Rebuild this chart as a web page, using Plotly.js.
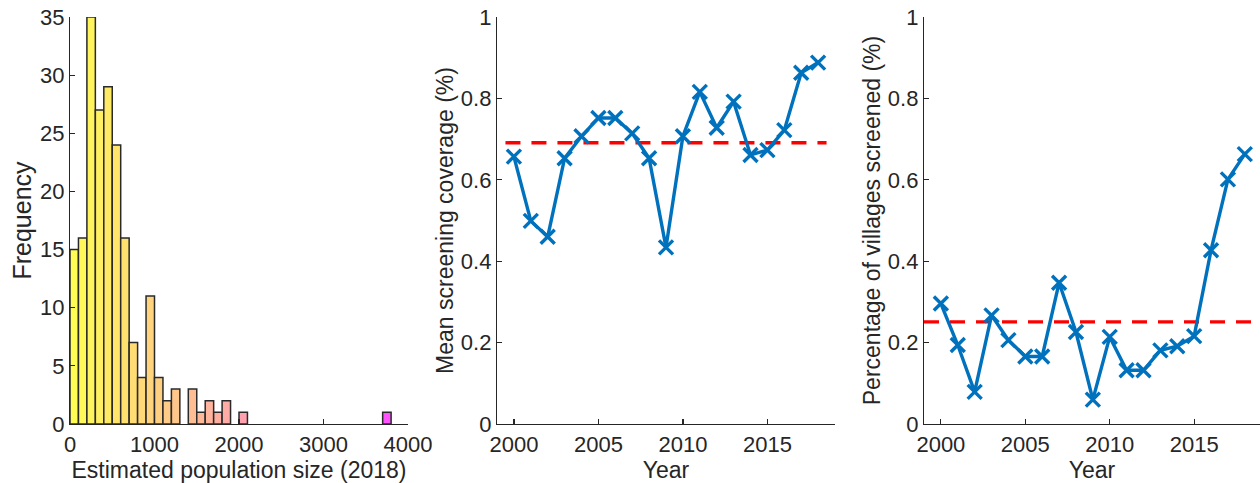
<!DOCTYPE html>
<html>
<head>
<meta charset="utf-8">
<script src="https://cdn.plot.ly/plotly-3.0.1.min.js"></script>
<style>html,body{margin:0;padding:0;background:#fff;overflow:hidden}#chart{width:1260px;height:483px}</style>
</head>
<body>
<div id="chart"></div>
<script>
// Histogram: bin left edges (width 100) and counts
const binWidth = 100;
const binStarts = [0,100,200,300,400,500,600,700,800,900,1000,1100,1200,1300,1400,1500,1600,1700,1800,1900,2000,2100,2200,2300,2400,2500,2600,2700,2800,2900,3000,3100,3200,3300,3400,3500,3600,3700];
const binCounts = [15,16,35,27,29,24,16,7,4,11,4,2,3,0,3,1,2,1,2,0,1,0,0,0,0,0,0,0,0,0,0,0,0,0,0,0,0,1];

// Time series
const years = [2000,2001,2002,2003,2004,2005,2006,2007,2008,2009,2010,2011,2012,2013,2014,2015,2016,2017,2018];
const meanCoverage = [0.657,0.499,0.460,0.653,0.707,0.752,0.752,0.714,0.653,0.434,0.707,0.816,0.728,0.792,0.661,0.673,0.722,0.863,0.888];
const meanCoverageAvg = 0.691;
const villagesScreened = [0.296,0.194,0.079,0.267,0.206,0.166,0.166,0.347,0.226,0.060,0.214,0.132,0.132,0.181,0.191,0.216,0.427,0.601,0.663];
const villagesScreenedAvg = 0.251;

const FONT = 'Liberation Sans, Arial, Helvetica, sans-serif';
const AX = '#262626';
const BLUE = '#0072BD';

// spring colormap (magenta->yellow) with transparency over white
const maxC = binStarts[binStarts.length-1] + binWidth;
const alpha = 0.68;
function springColor(v){
  const t = 1 - v / maxC;
  const r = 255;
  const g = Math.round(255*(alpha*t + (1-alpha)));
  const b = Math.round(255*(alpha*(1-t) + (1-alpha)));
  return 'rgb('+r+','+g+','+b+')';
}
const centers = binStarts.map(s => s + binWidth/2);
const shown = binCounts.map(c => c > 0);
const histX = centers.filter((_,i)=>shown[i]);
const histY = binCounts.filter((_,i)=>shown[i]);
const histC = histX.map(springColor);

const mk = {symbol:'x-thin', size:14, color:BLUE, line:{color:BLUE, width:3.4}};
const traces = [
  {type:'bar', x:histX, y:histY, width:binWidth, xaxis:'x', yaxis:'y',
   marker:{color:histC, line:{color:'#2a2a2a', width:1.5}}, hoverinfo:'x+y'},
  {type:'scatter', mode:'lines', x:[years[0]-0.5, years[years.length-1]+0.5], y:[meanCoverageAvg, meanCoverageAvg],
   xaxis:'x2', yaxis:'y2', line:{color:'#ff0000', width:3.4, dash:'15px,11px'}},
  {type:'scatter', mode:'lines+markers', x:years, y:meanCoverage, xaxis:'x2', yaxis:'y2',
   line:{color:BLUE, width:3.4}, marker:mk},
  {type:'scatter', mode:'lines', x:[years[0]-1, years[years.length-1]+1], y:[villagesScreenedAvg, villagesScreenedAvg],
   xaxis:'x3', yaxis:'y3', line:{color:'#ff0000', width:3.4, dash:'15px,11px'}},
  {type:'scatter', mode:'lines+markers', x:years, y:villagesScreened, xaxis:'x3', yaxis:'y3',
   line:{color:BLUE, width:3.4}, marker:mk}
];

function axisBase(){
  return {showline:true, linecolor:AX, linewidth:1.2, ticks:'inside', ticklen:5, tickwidth:1.2, tickcolor:AX,
          showgrid:false, zeroline:false, tickfont:{family:FONT, size:22, color:AX}, automargin:false, fixedrange:true};
}
const W = 1260;
const layout = {
  width:1260, height:483, showlegend:false,
  paper_bgcolor:'#fff', plot_bgcolor:'#fff',
  margin:{l:0, r:0, t:17, b:59},
  font:{family:FONT, color:AX},
  xaxis:Object.assign(axisBase(), {domain:[70/W, 408/W], range:[0,4000], tickvals:[0,1000,2000,3000,4000], anchor:'y',
        title:{text:'Estimated population size (2018)', font:{family:FONT, size:23, color:AX}, standoff:5}}),
  yaxis:Object.assign(axisBase(), {domain:[0,1], range:[0,35], dtick:5, anchor:'x',
        title:{text:'Frequency', font:{family:FONT, size:25, color:AX}, standoff:1}}),
  xaxis2:Object.assign(axisBase(), {domain:[497/W, 835/W], range:[1999,2019], tickvals:[2000,2005,2010,2015], anchor:'y2',
        title:{text:'Year', font:{family:FONT, size:23, color:AX}, standoff:5}}),
  yaxis2:Object.assign(axisBase(), {domain:[0,1], range:[0,1], tickvals:[0,0.2,0.4,0.6,0.8,1], anchor:'x2',
        title:{text:'Mean screening coverage (%)', font:{family:FONT, size:23, color:AX}, standoff:0}}),
  xaxis3:Object.assign(axisBase(), {domain:[924/W, 1], range:[1999,2018.9], tickvals:[2000,2005,2010,2015], anchor:'y3',
        title:{text:'Year', font:{family:FONT, size:23, color:AX}, standoff:5}}),
  yaxis3:Object.assign(axisBase(), {domain:[0,1], range:[0,1], tickvals:[0,0.2,0.4,0.6,0.8,1], anchor:'x3',
        title:{text:'Percentage of villages screened (%)', font:{family:FONT, size:23, color:AX}, standoff:0}}),
  bargap:0
};
Plotly.newPlot('chart', traces, layout, {displayModeBar:false, staticPlot:true});
</script>
</body>
</html>
